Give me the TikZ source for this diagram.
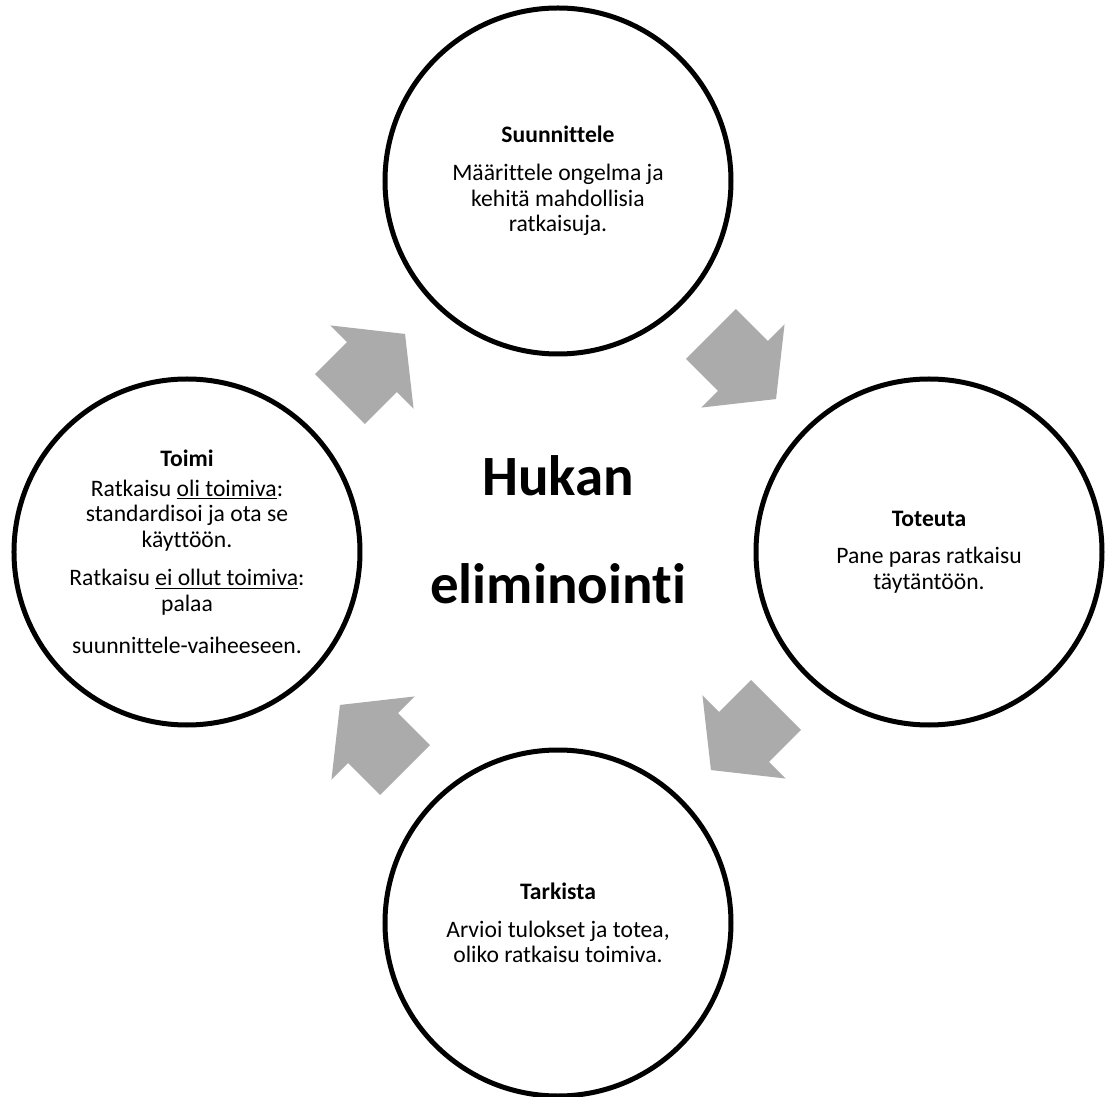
\documentclass[tikz,border=0pt]{standalone}
\usepackage{fontspec}
\setmainfont{Carlito}[Ligatures=CommonOff]
\usepackage{xcolor}
\definecolor{arrg}{RGB}{171,171,171}
\usetikzlibrary{shapes.arrows, calc, positioning}

\begin{document}
\begin{tikzpicture}[
    phase/.style={draw, circle, line width=0.125cm, minimum size=8.65cm, inner sep=0pt, align=center, font=\fontsize{16.8}{18.2}\selectfont},
    cyclearrow/.style={single arrow, fill=arrg, draw=none, inner xsep=0pt, inner ysep=0.875cm, minimum height=2.3cm, single arrow head extend=0.5875cm, single arrow tip angle=103}
]
        \useasboundingbox (-13.95,-13.625) rectangle (13.7,13.8);
        \foreach \i/\label in {0/{\textbf{Suunnittele}\\[8.5pt] Määrittele ongelma ja\\ kehitä mahdollisia\\ ratkaisuja.}, 1/{\textbf{Toteuta}\\[8.5pt] Pane paras ratkaisu\\ täytäntöön.}, 2/{\textbf{Tarkista}\\[8.5pt] Arvioi tulokset ja totea,\\ oliko ratkaisu toimiva.}, 3/{\textbf{Toimi}\\[3pt] Ratkaisu \underline{oli toimiva}:\\ standardisoi ja ota se\\ käyttöön.\\[9pt] Ratkaisu \underline{ei ollut toimiva}:\\ palaa\\[12pt] suunnittele-vaiheeseen.}}
        {
            \node[phase] (n\i) at (90-\i*90:9.275) {\label};
        }
        \foreach \i [remember=\i as \last (initially 3)] in {0,...,3}
            \node[cyclearrow, rotate=-45-\last*90, xshift=-0.35cm] (a\i) at ($(n\last)!0.5!(n\i)$) {};
        \node[font=\fontsize{40.5}{76.8}\selectfont\bfseries, align=center] (title) at (0,0.55) {Hukan\\eliminointi};
    \end{tikzpicture}
\end{document}
